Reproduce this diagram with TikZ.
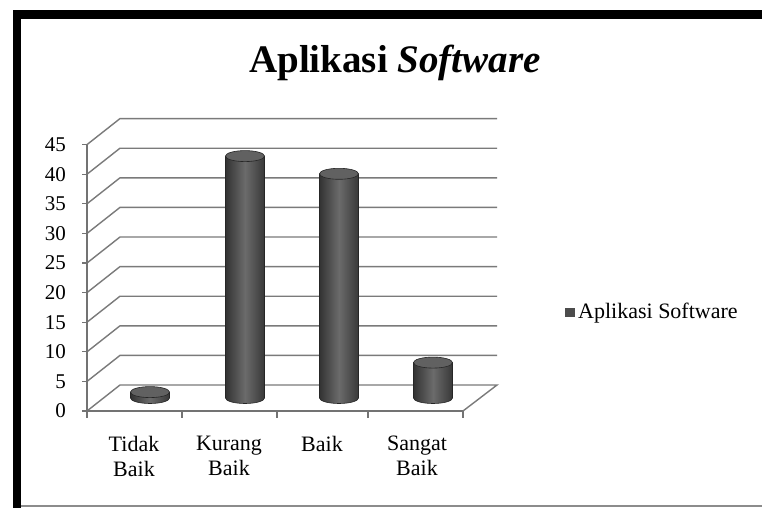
\documentclass[tikz,border=0pt]{standalone}
\usepackage{fontspec}
\setmainfont{Liberation Serif}
\begin{document}
\begin{tikzpicture}[x=1pt,y=-1pt,
  gridline/.style={draw=black!52,line width=1.4pt},
  axisline/.style={draw=black!55,line width=1.1pt},
  barbody/.style={left color=black!80,right color=black!78,middle color=black!58,draw=black!85,line width=0.6pt},
  bartop/.style={fill=black!62,draw=black!85,line width=0.6pt},
  ticklbl/.style={font=\fontsize{21}{23}\selectfont,anchor=east,inner sep=0pt},
  catlbl/.style={font=\fontsize{22}{25}\selectfont,align=center,anchor=north,inner sep=0pt},
]
\useasboundingbox (0,0) rectangle (762,508);
\fill[white] (0,0) rectangle (762,508);

% outer frame of the chart area
\fill[black] (13,10) rectangle (762,19);
\fill[black] (13,10) rectangle (21,508);
\draw[black!45,line width=2pt] (21,506) -- (762,506);

% title
\node[font=\fontsize{39}{42}\selectfont\bfseries,anchor=base] (title) at (395,73) {Aplikasi \textit{Software}};

% side-wall and back-wall gridlines, 0 .. 45 in steps of 5
\foreach \i in {1,...,9}{
  \pgfmathsetmacro{\yf}{411-29.6*\i}
  \pgfmathsetmacro{\yb}{385-29.6*\i}
  \draw[gridline] (87,\yf) -- (120,\yb) -- (497,\yb);
}
% floor
\draw[gridline] (87,411) -- (120,385) -- (497,385) -- (463,411);
% value axis and category axis
\draw[axisline] (87,411) -- (87,144.6);
\draw[axisline] (87,411) -- (463,411);
\foreach \i in {0,...,9}{
  \pgfmathsetmacro{\yf}{411-29.6*\i}
  \pgfmathtruncatemacro{\v}{5*\i}
  \draw[axisline] (82,\yf) -- (87,\yf);
  \node[ticklbl] (ylab\i) at (66,\yf) {\v};
}
\foreach \x in {87,182,277,368,463}{
  \draw[axisline] (\x,411) -- (\x,418);
}

% cylinders: centre x, top y (bottom at 398)
\foreach \cx/\yt in {150/392.1,245/156.1,339/173.8,433/362.6}{
  \path[barbody] (\cx-19.5,\yt) -- (\cx-19.5,398)
     arc[start angle=180,end angle=0,x radius=19.5,y radius=5.5]
     -- (\cx+19.5,\yt) -- cycle;
  \path[bartop] (\cx,\yt) ellipse [x radius=19.5,y radius=5.5];
}

% category labels
\node[catlbl] (c1) at (134,436) {Tidak\\Baik};
\node[catlbl] (c2) at (229,436) {Kurang\\Baik};
\node[catlbl] (c3) at (322,436) {Baik};
\node[catlbl] (c4) at (417,436) {Sangat\\Baik};

% legend
\fill[black!70] (565,308) rectangle (575,317);
\node[font=\fontsize{22}{25}\selectfont,anchor=west,inner sep=0pt] (legend) at (578,313) {Aplikasi Software};
\end{tikzpicture}
\end{document}
